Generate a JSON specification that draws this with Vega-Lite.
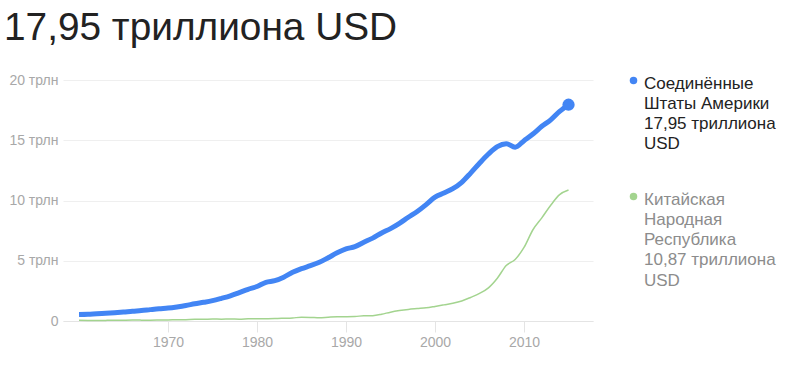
{
  "$schema": "https://vega.github.io/schema/vega-lite/v6.json",
  "width": 530,
  "height": 241,
  "autosize": {"type": "none"},
  "padding": {"left": 63, "top": 80, "right": 203, "bottom": 58},
  "background": "white",
  "title": {
    "text": "17,95 триллиона USD",
    "anchor": "start",
    "frame": "group",
    "font": "Liberation Sans",
    "fontSize": 38.8,
    "fontWeight": "normal",
    "color": "#222222",
    "dx": -59,
    "offset": 24
  },
  "config": {
    "view": {"stroke": null},
    "font": "Liberation Sans",
    "axis": {"labelFont": "Liberation Sans", "labelFontSize": 14, "labelColor": "#a0a0a0", "titleFontSize": 0}
  },
  "data": {
    "values": [
      {"year": 1960, "series": "США", "gdp": 0.543}, {"year": 1961, "series": "США", "gdp": 0.563}, {"year": 1962, "series": "США", "gdp": 0.605}, {"year": 1963, "series": "США", "gdp": 0.639}, {"year": 1964, "series": "США", "gdp": 0.686}, {"year": 1965, "series": "США", "gdp": 0.744}, {"year": 1966, "series": "США", "gdp": 0.815}, {"year": 1967, "series": "США", "gdp": 0.862}, {"year": 1968, "series": "США", "gdp": 0.943}, {"year": 1969, "series": "США", "gdp": 1.019},
      {"year": 1970, "series": "США", "gdp": 1.075}, {"year": 1971, "series": "США", "gdp": 1.168}, {"year": 1972, "series": "США", "gdp": 1.282}, {"year": 1973, "series": "США", "gdp": 1.429}, {"year": 1974, "series": "США", "gdp": 1.549}, {"year": 1975, "series": "США", "gdp": 1.689}, {"year": 1976, "series": "США", "gdp": 1.878}, {"year": 1977, "series": "США", "gdp": 2.086}, {"year": 1978, "series": "США", "gdp": 2.357}, {"year": 1979, "series": "США", "gdp": 2.632},
      {"year": 1980, "series": "США", "gdp": 2.863}, {"year": 1981, "series": "США", "gdp": 3.211}, {"year": 1982, "series": "США", "gdp": 3.345}, {"year": 1983, "series": "США", "gdp": 3.638}, {"year": 1984, "series": "США", "gdp": 4.041}, {"year": 1985, "series": "США", "gdp": 4.347}, {"year": 1986, "series": "США", "gdp": 4.590}, {"year": 1987, "series": "США", "gdp": 4.870}, {"year": 1988, "series": "США", "gdp": 5.253}, {"year": 1989, "series": "США", "gdp": 5.658},
      {"year": 1990, "series": "США", "gdp": 5.980}, {"year": 1991, "series": "США", "gdp": 6.174}, {"year": 1992, "series": "США", "gdp": 6.539}, {"year": 1993, "series": "США", "gdp": 6.879}, {"year": 1994, "series": "США", "gdp": 7.309}, {"year": 1995, "series": "США", "gdp": 7.664}, {"year": 1996, "series": "США", "gdp": 8.100}, {"year": 1997, "series": "США", "gdp": 8.609}, {"year": 1998, "series": "США", "gdp": 9.089}, {"year": 1999, "series": "США", "gdp": 9.661},
      {"year": 2000, "series": "США", "gdp": 10.285}, {"year": 2001, "series": "США", "gdp": 10.622}, {"year": 2002, "series": "США", "gdp": 10.978}, {"year": 2003, "series": "США", "gdp": 11.511}, {"year": 2004, "series": "США", "gdp": 12.275}, {"year": 2005, "series": "США", "gdp": 13.094}, {"year": 2006, "series": "США", "gdp": 13.856}, {"year": 2007, "series": "США", "gdp": 14.478}, {"year": 2008, "series": "США", "gdp": 14.719}, {"year": 2009, "series": "США", "gdp": 14.419},
      {"year": 2010, "series": "США", "gdp": 14.964}, {"year": 2011, "series": "США", "gdp": 15.518}, {"year": 2012, "series": "США", "gdp": 16.155}, {"year": 2013, "series": "США", "gdp": 16.692}, {"year": 2014, "series": "США", "gdp": 17.393}, {"year": 2015, "series": "США", "gdp": 17.947},
      {"year": 1960, "series": "Китай", "gdp": 0.060}, {"year": 1961, "series": "Китай", "gdp": 0.050}, {"year": 1962, "series": "Китай", "gdp": 0.047}, {"year": 1963, "series": "Китай", "gdp": 0.051}, {"year": 1964, "series": "Китай", "gdp": 0.060}, {"year": 1965, "series": "Китай", "gdp": 0.070}, {"year": 1966, "series": "Китай", "gdp": 0.077}, {"year": 1967, "series": "Китай", "gdp": 0.072}, {"year": 1968, "series": "Китай", "gdp": 0.070}, {"year": 1969, "series": "Китай", "gdp": 0.079},
      {"year": 1970, "series": "Китай", "gdp": 0.092}, {"year": 1971, "series": "Китай", "gdp": 0.099}, {"year": 1972, "series": "Китай", "gdp": 0.112}, {"year": 1973, "series": "Китай", "gdp": 0.137}, {"year": 1974, "series": "Китай", "gdp": 0.142}, {"year": 1975, "series": "Китай", "gdp": 0.161}, {"year": 1976, "series": "Китай", "gdp": 0.152}, {"year": 1977, "series": "Китай", "gdp": 0.173}, {"year": 1978, "series": "Китай", "gdp": 0.149}, {"year": 1979, "series": "Китай", "gdp": 0.177},
      {"year": 1980, "series": "Китай", "gdp": 0.189}, {"year": 1981, "series": "Китай", "gdp": 0.194}, {"year": 1982, "series": "Китай", "gdp": 0.203}, {"year": 1983, "series": "Китай", "gdp": 0.228}, {"year": 1984, "series": "Китай", "gdp": 0.257}, {"year": 1985, "series": "Китай", "gdp": 0.308}, {"year": 1986, "series": "Китай", "gdp": 0.299}, {"year": 1987, "series": "Китай", "gdp": 0.272}, {"year": 1988, "series": "Китай", "gdp": 0.312}, {"year": 1989, "series": "Китай", "gdp": 0.348},
      {"year": 1990, "series": "Китай", "gdp": 0.361}, {"year": 1991, "series": "Китай", "gdp": 0.383}, {"year": 1992, "series": "Китай", "gdp": 0.427}, {"year": 1993, "series": "Китай", "gdp": 0.445}, {"year": 1994, "series": "Китай", "gdp": 0.564}, {"year": 1995, "series": "Китай", "gdp": 0.735}, {"year": 1996, "series": "Китай", "gdp": 0.864}, {"year": 1997, "series": "Китай", "gdp": 0.962}, {"year": 1998, "series": "Китай", "gdp": 1.029}, {"year": 1999, "series": "Китай", "gdp": 1.094},
      {"year": 2000, "series": "Китай", "gdp": 1.211}, {"year": 2001, "series": "Китай", "gdp": 1.339}, {"year": 2002, "series": "Китай", "gdp": 1.471}, {"year": 2003, "series": "Китай", "gdp": 1.660}, {"year": 2004, "series": "Китай", "gdp": 1.955}, {"year": 2005, "series": "Китай", "gdp": 2.286}, {"year": 2006, "series": "Китай", "gdp": 2.752}, {"year": 2007, "series": "Китай", "gdp": 3.552}, {"year": 2008, "series": "Китай", "gdp": 4.598}, {"year": 2009, "series": "Китай", "gdp": 5.110},
      {"year": 2010, "series": "Китай", "gdp": 6.101}, {"year": 2011, "series": "Китай", "gdp": 7.573}, {"year": 2012, "series": "Китай", "gdp": 8.561}, {"year": 2013, "series": "Китай", "gdp": 9.607}, {"year": 2014, "series": "Китай", "gdp": 10.482}, {"year": 2015, "series": "Китай", "gdp": 10.866}
    ]
  },
  "encoding": {
    "x": {
      "field": "year",
      "type": "quantitative",
      "scale": {"domain": [1958.2, 2017.75], "nice": false, "zero": false},
      "axis": {
        "title": null,
        "values": [1970, 1980, 1990, 2000, 2010],
        "format": "d",
        "grid": false,
        "domain": true,
        "domainColor": "#e4e4e4",
        "ticks": true,
        "tickColor": "#e4e4e4",
        "tickSize": 11,
        "labelPadding": 3,
        "labelColor": "#a8a8a8"
      }
    },
    "y": {
      "field": "gdp",
      "type": "quantitative",
      "scale": {"domain": [0, 20], "nice": false},
      "axis": {
        "title": null,
        "values": [0, 5, 10, 15, 20],
        "labelExpr": "datum.value == 0 ? '0' : datum.value + ' трлн'",
        "grid": true,
        "gridColor": "#efefef",
        "domain": false,
        "ticks": false,
        "labelPadding": 5,
        "labelColor": "#a8a8a8"
      }
    }
  },
  "layer": [
    {
      "mark": {"type": "line", "interpolate": "monotone"},
      "encoding": {
        "color": {
          "field": "series",
          "type": "nominal",
          "scale": {"domain": ["США", "Китай"], "range": ["#4285f4", "#a3d48f"]},
          "legend": {
            "orient": "none",
            "legendX": 562,
            "legendY": -8,
            "title": null,
            "padding": 0,
            "symbolType": "circle",
            "symbolSize": 56,
            "symbolStrokeWidth": 0,
            "labelOffset": 2,
            "labelFont": "Liberation Sans",
            "labelFontSize": 17,
            "labelLimit": 300,
            "labelBaseline": "top",
            "rowPadding": 35,
            "labelExpr": "datum.label == 'США' ? ['Соединённые', 'Штаты Америки', '17,95 триллиона', 'USD'] : ['Китайская', 'Народная', 'Республика', '10,87 триллиона', 'USD']",
            "encoding": {
              "symbols": {
                "fill": {"condition": {"test": "datum.value == 'США'", "value": "#4285f4"}, "value": "#a3d48f"},
                "stroke": {"value": "transparent"},
                "strokeWidth": {"value": 0}
              },
              "labels": {
                "fill": {"condition": {"test": "datum.value == 'США'", "value": "#222222"}, "value": "#8c8c8c"},
                "lineHeight": {"value": 20.3},
                "dy": {"value": -5}
              }
            }
          }
        },
        "strokeWidth": {
          "condition": {"test": "datum.series == 'США'", "value": 5},
          "value": 1.5
        }
      }
    },
    {
      "transform": [{"filter": "datum.series == 'США' && datum.year == 2015"}],
      "mark": {"type": "point", "filled": true, "opacity": 1, "size": 150, "color": "#4285f4"},
      "encoding": {}
    }
  ]
}
